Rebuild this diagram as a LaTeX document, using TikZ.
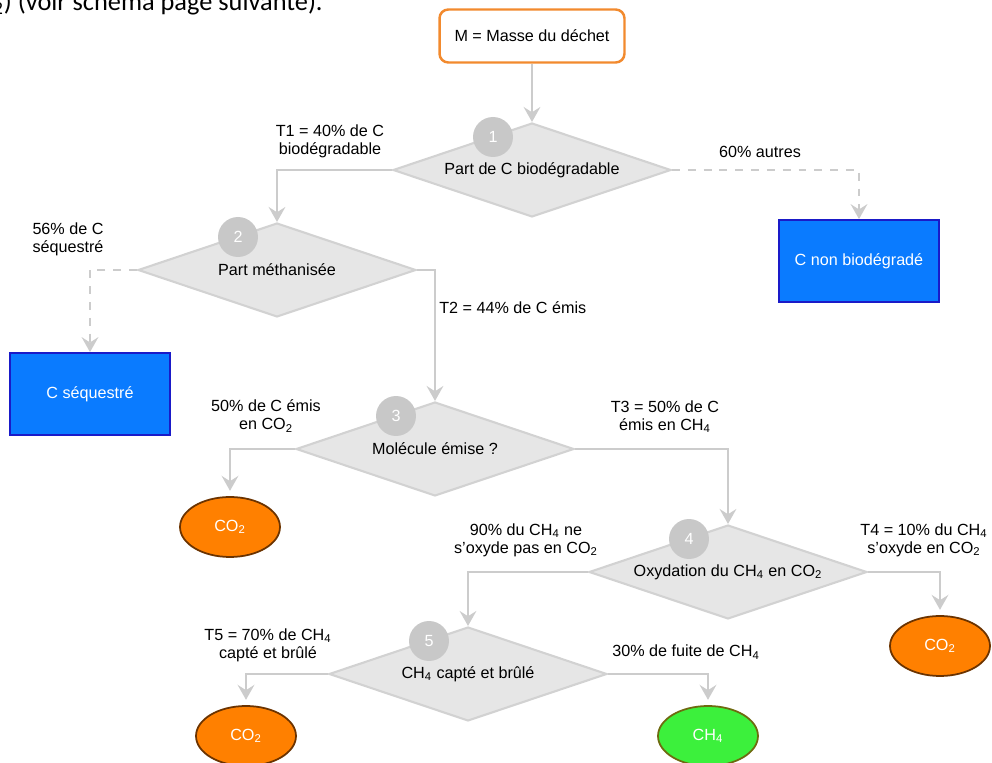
\documentclass[tikz,border=0pt]{standalone}
\usepackage{fontspec}
\setmainfont{Liberation Sans}
\newfontfamily\pagefont{Carlito}
\usetikzlibrary{shapes.geometric,arrows.meta}
\definecolor{flowgray}{HTML}{CCCCCC}
\definecolor{diafill}{HTML}{E6E6E6}
\definecolor{diadraw}{HTML}{D2D2D2}
\definecolor{badgegray}{HTML}{C8C8C8}
\definecolor{boxorange}{HTML}{F28A2E}
\definecolor{sinkblue}{HTML}{0A7BFF}
\definecolor{sinkedge}{HTML}{1A1AC8}
\definecolor{gasorange}{HTML}{FF8000}
\definecolor{gasedge}{HTML}{6B3300}
\definecolor{gasgreen}{HTML}{3CF03C}
\definecolor{gasgreenedge}{HTML}{6E6A10}

\begin{document}
\begin{tikzpicture}[x=0.02cm, y=-0.02cm,
    every node/.style={font=\fontsize{9.2}{10.2}\selectfont},
    flow/.style={draw=flowgray, line width=1.4pt, -{Stealth[length=8.5pt,width=9.5pt,inset=3pt]}},
    flowdash/.style={flow, dash pattern=on 4.5pt off 4.5pt},
    decision/.style={diamond, aspect=2.95, draw=diadraw, fill=diafill, line width=1.2pt, minimum width=5.56cm, minimum height=1.88cm, inner sep=0pt},
    badge/.style={circle, fill=badgegray, text=white, minimum size=0.8cm, inner sep=0pt},
    sink/.style={rectangle, draw=sinkedge, fill=sinkblue, text=white, line width=1pt, minimum width=3.2cm, minimum height=1.64cm},
    gas/.style={ellipse, draw=gasedge, fill=gasorange, text=white, line width=1pt, minimum width=2cm, minimum height=1.2cm, inner sep=0pt},
    lbl/.style={align=center, inner sep=0pt}]
    \useasboundingbox (0,0) rectangle (992,763);

    % bit of the page text above the figure
    \node[anchor=base east, inner sep=0pt, font=\pagefont\fontsize{15}{17}\selectfont] (pagetxt) at (323,11) {\textsubscript{2}) (voir schéma page suivante).};

    \node[draw=boxorange, line width=1.4pt, rounded corners=5pt, fill=white, minimum width=3.7cm, minimum height=1.06cm] (mass) at (532,36) {M = Masse du déchet};

    \node[decision] (d1) at (532,170) {Part de C biodégradable};
    \node[decision] (d2) at (277,270) {Part méthanisée};
    \node[decision] (d3) at (435,449) {Molécule émise ?};
    \node[decision] (d4) at (728,572) {Oxydation du CH\textsubscript{4} en CO\textsubscript{2}};
    \node[decision] (d5) at (468,674) {CH\textsubscript{4} capté et brûlé};

    \foreach \k in {1,...,5}
        \node[badge] (b\k) at ([shift={(-39,-33)}]d\k.center) {\k};

    \node[sink] (nonbio) at (859,261) {C non biodégradé};
    \node[sink] (seq) at (90,394) {C séquestré};

    \node[gas] (co2a) at (230,527) {CO\textsubscript{2}};
    \node[gas] (co2b) at (940,646) {CO\textsubscript{2}};
    \node[gas] (co2c) at (246,736) {CO\textsubscript{2}};
    \node[gas, fill=gasgreen, draw=gasgreenedge] (ch4) at (708,736) {CH\textsubscript{4}};

    \draw[flow] (mass.south) -- (d1.north);
    \draw[flow] (d1.west) -| (d2.north);
    \draw[flowdash] (d1.east) -| (nonbio.north);
    \draw[flowdash] (d2.west) -| (seq.north);
    \draw[flow] (d2.east) -| (d3.north);
    \draw[flow, shorten >=3pt] (d3.west) -| (co2a.north);
    \draw[flow] (d3.east) -| (d4.north);
    \draw[flow] (d4.west) -| (d5.north);
    \draw[flow, shorten >=3pt] (d4.east) -| (co2b.north);
    \draw[flow, shorten >=3pt] (d5.west) -| (co2c.north);
    \draw[flow, shorten >=3pt] (d5.east) -| (ch4.north);

    \node[lbl] (t1) at (330,141) {T1 = 40\% de C\\biodégradable};
    \node[lbl] (t60) at (760,152) {60\% autres};
    \node[lbl] (t56) at (68,239) {56\% de C\\séquestré};
    \node[lbl, anchor=west] (t2) at (439,308) {T2 = 44\% de C émis};
    \node[lbl] (t50) at (266,416) {50\% de C émis\\en CO\textsubscript{2}};
    \node[lbl] (t3) at (665,417) {T3 = 50\% de C\\émis en CH\textsubscript{4}};
    \node[lbl] (t90) at (526,540) {90\% du CH\textsubscript{4} ne\\s'oxyde pas en CO\textsubscript{2}};
    \node[lbl] (t4) at (924,540) {T4 = 10\% du CH\textsubscript{4}\\s'oxyde en CO\textsubscript{2}};
    \node[lbl] (t5) at (268,645) {T5 = 70\% de CH\textsubscript{4}\\capté et brûlé};
    \node[lbl] (t30) at (686,652) {30\% de fuite de CH\textsubscript{4}};
\end{tikzpicture}
\end{document}
